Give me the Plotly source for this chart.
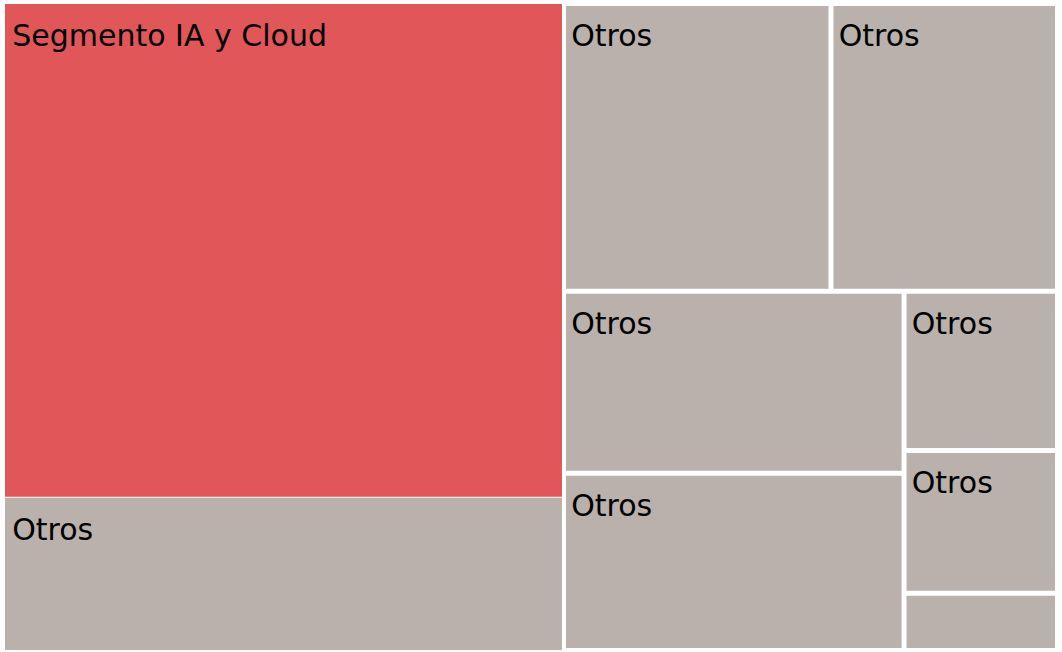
import plotly.graph_objects as go

# Leaf tiles (relative tile areas)
segment_ids = ["seg_ia", "otros_1", "otros_2", "otros_3", "otros_4", "otros_5", "otros_6", "otros_7", "otros_8"]
segment_labels = ["Segmento IA y Cloud", "Otros", "Otros", "Otros", "Otros", "Otros", "Otros", "Otros", "Otros"]
segment_text = ["Segmento IA y Cloud", "Otros", "Otros", "Otros", "Otros", "Otros", "Otros", "Otros", ""]
segment_values = [276.0, 85.6, 77.0, 65.2, 61.9, 60.4, 24.4, 21.9, 8.8]
segment_group = ["g_left", "g_left", "g_top", "g_top", "g_mid", "g_mid", "g_side", "g_side", "g_side"]
segment_highlight = [True, False, False, False, False, False, False, False, False]

# Invisible layout groups (reproduce the tile arrangement)
group_ids = ["g_left", "g_right", "g_top", "g_bottom", "g_mid", "g_side"]
group_parents = ["root", "root", "g_right", "g_right", "g_bottom", "g_bottom"]

RED = "#E15759"
GRAY = "#BAB0AC"
# spacer that insets the label from the tile's top-left corner
SPACER = '<span style="font-size:42px">\u200a</span>'

ids, parents, labels, texts, values, colors, lw = [], [], [], [], [], [], []

def add(i, p, lab, txt, v, c, w):
    ids.append(i); parents.append(p); labels.append(lab); texts.append(txt)
    values.append(v); colors.append(c); lw.append(w)

add("root", "", "", "", 0, "white", 0)
for gid, gp in zip(group_ids, group_parents):
    add(gid, gp, "", "", 0, "white", 0)
for sid, lab, txt, v, g, hl in zip(segment_ids, segment_labels, segment_text,
                                   segment_values, segment_group, segment_highlight):
    add(sid, g, lab, (SPACER + txt) if txt else "", v, RED if hl else GRAY,
        0 if g == "g_left" else 4)

fig = go.Figure(go.Treemap(
    ids=ids, parents=parents, labels=labels, values=values, text=texts,
    branchvalues="remainder",
    sort=False,
    textinfo="text",
    textposition="top left",
    textfont=dict(family="DejaVu Sans", size=30, color="black"),
    marker=dict(colors=colors, line=dict(color="white", width=lw),
                pad=dict(t=0, l=0, r=0, b=0), depthfade=False),
    tiling=dict(packing="slice-dice", pad=1),
    pathbar=dict(visible=False),
    hoverinfo="label+value",
))
fig.update_layout(
    width=1062, height=652,
    margin=dict(l=5, r=5, t=4, b=2),
    paper_bgcolor="white",
    plot_bgcolor="white",
)
fig.write_html("out.html")
